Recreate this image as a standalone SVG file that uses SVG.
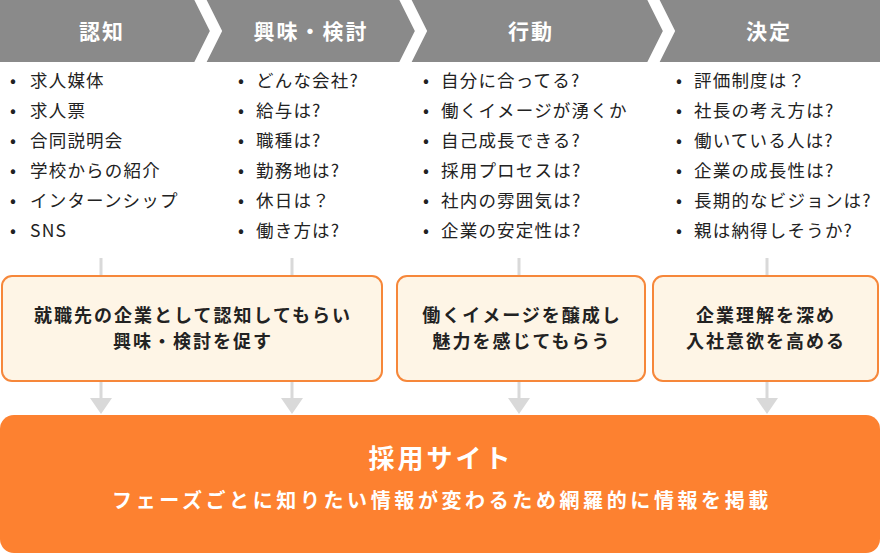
<svg xmlns="http://www.w3.org/2000/svg" width="880" height="553" viewBox="0 0 880 553">
<style>
text{font-family:"Noto Sans CJK JP","Noto Sans",sans-serif;}
.h{fill:#fff;font-size:21px;font-weight:bold;text-anchor:middle;letter-spacing:2px}
.b{fill:#222;font-size:17.5px;letter-spacing:1.2px}
.box{fill:#fef5e6;stroke:#f6873a;stroke-width:2}
.bt{fill:#222;font-size:18px;font-weight:bold;text-anchor:middle;letter-spacing:2px}
.ln{stroke:#d9d9d9;stroke-width:3}
.ar{fill:#d9d9d9}
</style>
<g id="header">
<rect x="0" y="0" width="880" height="62" fill="#8a8a8a"/>
<polyline points="199,-3 216,31 199,65" fill="none" stroke="#fff" stroke-width="11"/>
<polyline points="404,-3 421,31 404,65" fill="none" stroke="#fff" stroke-width="11"/>
<polyline points="652,-3 669,31 652,65" fill="none" stroke="#fff" stroke-width="11"/>
<text class="h" x="102" y="39">認知</text>
<text class="h" x="311" y="39">興味・検討</text>
<text class="h" x="531" y="39">行動</text>
<text class="h" x="769" y="39">決定</text>
</g>
<g id="list1" class="b">
<text x="10" y="87"><tspan>•</tspan><tspan x="30">求人媒体</tspan></text>
<text x="10" y="117"><tspan>•</tspan><tspan x="30">求人票</tspan></text>
<text x="10" y="147"><tspan>•</tspan><tspan x="30">合同説明会</tspan></text>
<text x="10" y="177"><tspan>•</tspan><tspan x="30">学校からの紹介</tspan></text>
<text x="10" y="207"><tspan>•</tspan><tspan x="30">インターンシップ</tspan></text>
<text x="10" y="237"><tspan>•</tspan><tspan x="30">SNS</tspan></text>
</g>
<g id="list2" class="b">
<text x="238" y="87"><tspan>•</tspan><tspan x="256">どんな会社?</tspan></text>
<text x="238" y="117"><tspan>•</tspan><tspan x="256">給与は?</tspan></text>
<text x="238" y="147"><tspan>•</tspan><tspan x="256">職種は?</tspan></text>
<text x="238" y="177"><tspan>•</tspan><tspan x="256">勤務地は?</tspan></text>
<text x="238" y="207"><tspan>•</tspan><tspan x="256">休日は？</tspan></text>
<text x="238" y="237"><tspan>•</tspan><tspan x="256">働き方は?</tspan></text>
</g>
<g id="list3" class="b">
<text x="423" y="87"><tspan>•</tspan><tspan x="441">自分に合ってる?</tspan></text>
<text x="423" y="117"><tspan>•</tspan><tspan x="441">働くイメージが湧くか</tspan></text>
<text x="423" y="147"><tspan>•</tspan><tspan x="441">自己成長できる?</tspan></text>
<text x="423" y="177"><tspan>•</tspan><tspan x="441">採用プロセスは?</tspan></text>
<text x="423" y="207"><tspan>•</tspan><tspan x="441">社内の雰囲気は?</tspan></text>
<text x="423" y="237"><tspan>•</tspan><tspan x="441">企業の安定性は?</tspan></text>
</g>
<g id="list4" class="b">
<text x="676" y="87"><tspan>•</tspan><tspan x="694">評価制度は？</tspan></text>
<text x="676" y="117"><tspan>•</tspan><tspan x="694">社長の考え方は?</tspan></text>
<text x="676" y="147"><tspan>•</tspan><tspan x="694">働いている人は?</tspan></text>
<text x="676" y="177"><tspan>•</tspan><tspan x="694">企業の成長性は?</tspan></text>
<text x="676" y="207"><tspan>•</tspan><tspan x="694">長期的なビジョンは?</tspan></text>
<text x="676" y="237"><tspan>•</tspan><tspan x="694">親は納得しそうか?</tspan></text>
</g>
<g id="connectors">
<line class="ln" x1="101" y1="258" x2="101" y2="277"/>
<line class="ln" x1="292" y1="258" x2="292" y2="277"/>
<line class="ln" x1="519" y1="258" x2="519" y2="277"/>
<line class="ln" x1="767" y1="258" x2="767" y2="277"/>
<line class="ln" x1="101" y1="381" x2="101" y2="400"/>
<line class="ln" x1="292" y1="381" x2="292" y2="400"/>
<line class="ln" x1="519" y1="381" x2="519" y2="400"/>
<line class="ln" x1="767" y1="381" x2="767" y2="400"/>
<polygon class="ar" points="90,398 112,398 101,414"/>
<polygon class="ar" points="281,398 303,398 292,414"/>
<polygon class="ar" points="508,398 530,398 519,414"/>
<polygon class="ar" points="756,398 778,398 767,414"/>
</g>
<g id="box1"><rect class="box" x="2" y="276" width="380" height="105" rx="10"/>
<text class="bt" x="193" y="322">就職先の企業として認知してもらい</text>
<text class="bt" x="193" y="348">興味・検討を促す</text></g>
<g id="box2"><rect class="box" x="397" y="276" width="248" height="105" rx="10"/>
<text class="bt" x="522" y="322">働くイメージを醸成し</text>
<text class="bt" x="522" y="348">魅力を感じてもらう</text></g>
<g id="box3"><rect class="box" x="653" y="276" width="225" height="105" rx="10"/>
<text class="bt" x="766" y="322">企業理解を深め</text>
<text class="bt" x="766" y="348">入社意欲を高める</text></g>
<g id="site"><rect x="0" y="415" width="880" height="138" rx="14" fill="#fd8130"/>
<text x="441" y="468" fill="#fff" font-size="26" font-weight="bold" text-anchor="middle" letter-spacing="3">採用サイト</text>
<text x="442" y="508" fill="#fff" font-size="20" font-weight="bold" text-anchor="middle" letter-spacing="3.6">フェーズごとに知りたい情報が変わるため網羅的に情報を掲載</text></g>
</svg>
